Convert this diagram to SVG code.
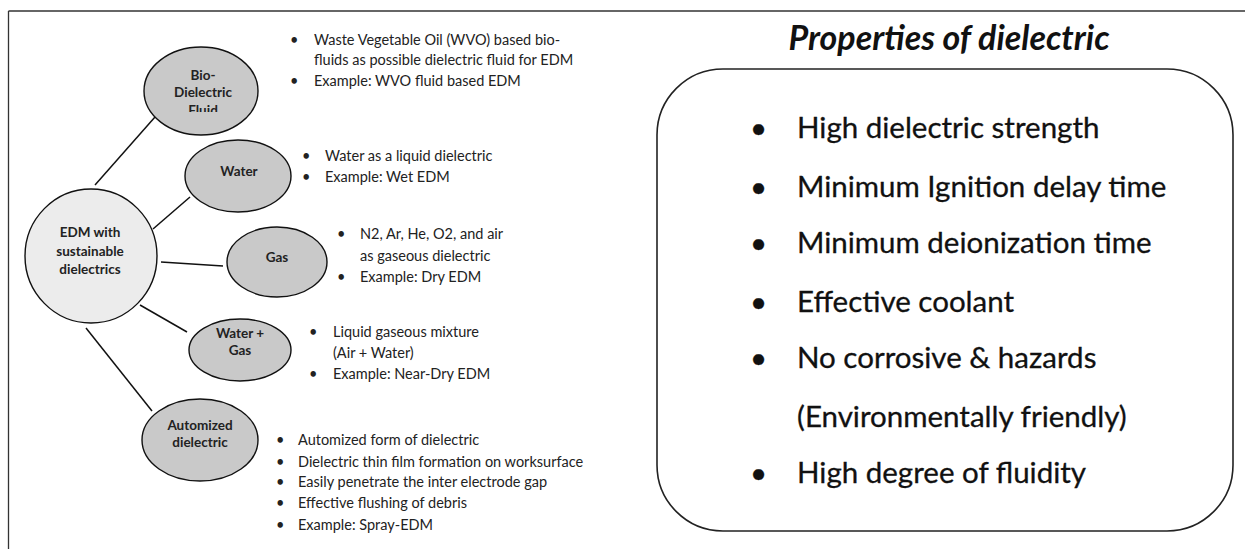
<svg xmlns="http://www.w3.org/2000/svg" width="1245" height="549" viewBox="0 0 1245 549">
<style>
.node{fill:#c9c9c9;stroke:#111;stroke-width:1.4}
.hub{fill:#ececec;stroke:#111;stroke-width:1.4}
.lbl{font-family:Lato,"Liberation Sans",sans-serif;font-weight:bold;font-size:13.5px;fill:#222;text-anchor:middle}
.sm{font-family:Lato,"Liberation Sans",sans-serif;font-size:14.5px;fill:#222}
.big{font-family:Lato,"Liberation Sans",sans-serif;font-size:29.5px;fill:#111;stroke:#111;stroke-width:0.3}
.title{font-family:Lato,"Liberation Sans",sans-serif;font-size:34px;font-weight:bold;font-style:italic;fill:#111;text-anchor:middle}
.conn line{stroke:#111;stroke-width:1.5}
</style>
<defs>
<clipPath id="bioclip"><rect x="140" y="40" width="130" height="72"/></clipPath>
</defs>
<rect width="1245" height="549" fill="#fff"/>
<g id="frame" fill="none" stroke="#333" stroke-width="1.3">
<line x1="8.5" y1="11" x2="1245" y2="11"/>
<line x1="8.5" y1="11" x2="8.5" y2="549"/>
</g>
<g class="conn" id="connectors">
<line x1="95" y1="185" x2="155" y2="117"/>
<line x1="153" y1="229" x2="190" y2="197"/>
<line x1="161" y1="262" x2="223" y2="266"/>
<line x1="140" y1="305" x2="187" y2="332"/>
<line x1="86" y1="328" x2="152" y2="411"/>
</g>
<g id="hub">
<ellipse class="hub" cx="91" cy="256" rx="66" ry="67"/>
<text class="lbl" x="90" y="237">EDM with</text>
<text class="lbl" x="90" y="256">sustainable</text>
<text class="lbl" x="90" y="274">dielectrics</text>
</g>
<g id="bio">
<ellipse class="node" cx="201" cy="91" rx="57" ry="44"/>
<g clip-path="url(#bioclip)">
<text class="lbl" x="203" y="80">Bio-</text>
<text class="lbl" x="203" y="97">Dielectric</text>
<text class="lbl" x="203" y="115">Fluid</text>
</g>
</g>
<g id="water">
<ellipse class="node" cx="238" cy="176" rx="53" ry="36"/>
<text class="lbl" x="239" y="176">Water</text>
</g>
<g id="gas">
<ellipse class="node" cx="277" cy="262" rx="50" ry="35"/>
<text class="lbl" x="277" y="262">Gas</text>
</g>
<g id="watergas">
<ellipse class="node" cx="240" cy="350" rx="51" ry="31"/>
<text class="lbl" x="240" y="338">Water +</text>
<text class="lbl" x="240" y="355">Gas</text>
</g>
<g id="automized">
<ellipse class="node" cx="200" cy="440" rx="58" ry="41"/>
<text class="lbl" x="200" y="430">Automized</text>
<text class="lbl" x="200" y="447">dielectric</text>
</g>
<g id="bio-notes" class="sm">
<text x="290" y="45">•</text><text x="314" y="45">Waste Vegetable Oil (WVO) based bio-</text>
<text x="314" y="65">fluids as possible dielectric fluid for EDM</text>
<text x="290" y="86">•</text><text x="314" y="86">Example: WVO fluid based EDM</text>
</g>
<g id="water-notes" class="sm">
<text x="302" y="161">•</text><text x="325" y="161">Water as a liquid dielectric</text>
<text x="302" y="182">•</text><text x="325" y="182">Example: Wet EDM</text>
</g>
<g id="gas-notes" class="sm">
<text x="337" y="239">•</text><text x="360" y="239">N2, Ar, He, O2, and air</text>
<text x="360" y="261">as gaseous dielectric</text>
<text x="337" y="282">•</text><text x="360" y="282">Example: Dry EDM</text>
</g>
<g id="watergas-notes" class="sm">
<text x="309" y="337">•</text><text x="333" y="337">Liquid gaseous mixture</text>
<text x="333" y="358">(Air + Water)</text>
<text x="309" y="379">•</text><text x="333" y="379">Example: Near-Dry EDM</text>
</g>
<g id="automized-notes" class="sm">
<text x="276" y="445">•</text><text x="298" y="445">Automized form of dielectric</text>
<text x="276" y="467">•</text><text x="298" y="467">Dielectric thin film formation on worksurface</text>
<text x="276" y="487">•</text><text x="298" y="487">Easily penetrate the inter electrode gap</text>
<text x="276" y="508">•</text><text x="298" y="508">Effective flushing of debris</text>
<text x="276" y="530">•</text><text x="298" y="530">Example: Spray-EDM</text>
</g>
<g id="properties">
<text class="title" x="949" y="50">Properties of dielectric</text>
<rect x="657" y="69" width="576" height="462" rx="66" ry="66" fill="none" stroke="#222" stroke-width="1.6"/>
<g class="big">
<text x="750" y="138">•</text><text x="797" y="138">High dielectric strength</text>
<text x="750" y="197">•</text><text x="797" y="197">Minimum Ignition delay time</text>
<text x="750" y="253">•</text><text x="797" y="253">Minimum deionization time</text>
<text x="750" y="312">•</text><text x="797" y="312">Effective coolant</text>
<text x="750" y="368">•</text><text x="797" y="368">No corrosive &amp; hazards</text>
<text x="797" y="427">(Environmentally friendly)</text>
<text x="750" y="483">•</text><text x="797" y="483">High degree of fluidity</text>
</g>
</g>
</svg>
